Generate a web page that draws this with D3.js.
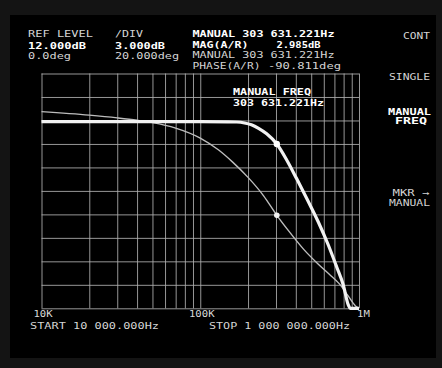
<!DOCTYPE html>
<html>
<head>
<meta charset="utf-8">
<script src="https://cdn.jsdelivr.net/npm/d3@7"></script>
<style>
  html, body { margin: 0; padding: 0; background: #141414; }
  svg { display: block; }
</style>
</head>
<body>
<svg id="chart" width="442" height="368"></svg>
<script>
// ---- data ----
const magFreqHz = [10000, 50000, 100000, 150000, 170000, 190000, 210000, 233000, 262100, 303631.221, 350400, 405200, 473900, 554200, 640600, 723600, 796100, 856100, 880000, 1000000];
const magDb     = [5.84, 5.84, 5.84, 5.83, 5.8, 5.68, 5.45, 5.0, 4.3, 2.985, 0.95, -1.46, -4.16, -6.97, -9.91, -12.72, -15.02, -17.57, -19, -24];

const phaseFreqHz = [10000, 20000, 30000, 40000, 50000, 70000, 100000, 130000, 160000, 200000, 250000, 303631.221, 370000, 450000, 550000, 650000, 750000, 850000, 950000, 1000000];
const phaseDeg    = [-2.5, -5.5, -7.8, -9.8, -11.8, -16.5, -25, -35, -45.5, -58.5, -74, -90.811, -106, -120, -132, -141, -149, -159, -168, -172];

const markerFreqHz = 303631.221;
const markerMagDb = 2.985;
const markerPhaseDeg = -90.811;

const freqTickValues = [10000, 100000, 1000000];
const freqTickLabels = ["10K", "100K", "1M"];
const magGridDb = [12, 9, 6, 3, 0, -3, -6, -9, -12, -15, -18];

// ---- layout ----
const svg = d3.select("#chart");
const L = 41.5, R = 359, T = 73.5, B = 308.3;
const FONT = "'DejaVu Sans Mono', 'Liberation Mono', monospace";

svg.append("rect").attr("x", 10).attr("y", 15).attr("width", 426).attr("height", 343).attr("fill", "#000");

const x = d3.scaleLog().domain([1e4, 1e6]).range([L, R]);
const yMag = d3.scaleLinear().domain([12, -18]).range([T, B]).clamp(true);
const yPh = d3.scaleLinear().domain([30, -170]).range([T, B]).clamp(true);

// grid
const gridX = svg.append("g").attr("transform", `translate(0,${B})`)
  .call(d3.axisBottom(x).tickValues(x.ticks()).tickSize(-(B - T)).tickFormat(""));
const gridY = svg.append("g").attr("transform", `translate(${L},0)`)
  .call(d3.axisLeft(yMag).tickValues(magGridDb).tickSize(-(R - L)).tickFormat(""));
[gridX, gridY].forEach(g => {
  g.select(".domain").remove();
  g.selectAll("line").attr("stroke", "#b0b0b0").attr("stroke-width", 1).attr("opacity", 0.85);
});

// frequency labels
const ax = svg.append("g").attr("transform", `translate(0,${B})`)
  .call(d3.axisBottom(x).tickValues(freqTickValues).tickSize(0).tickPadding(0)
    .tickFormat((d, i) => freqTickLabels[i]));
ax.select(".domain").remove();
ax.selectAll("text")
  .attr("font-family", FONT).attr("font-size", 8.5).attr("fill", "#d8d8d8")
  .attr("dy", 0).attr("y", 9)
  .attr("textLength", (d, i) => freqTickLabels[i].length * 6.4)
  .attr("lengthAdjust", "spacingAndGlyphs")
  .attr("dx", (d, i) => i === 2 ? 4 : 1);

// curves
const line = (ys) => d3.line().x(d => x(d[0])).y(d => ys(d[1])).curve(d3.curveMonotoneX);
svg.append("path")
  .datum(phaseFreqHz.map((f, i) => [f, phaseDeg[i]]))
  .attr("d", line(yPh))
  .attr("fill", "none").attr("stroke", "#bdbdbd").attr("stroke-width", 1.4);
svg.append("path")
  .datum(magFreqHz.map((f, i) => [f, magDb[i]]))
  .attr("d", line(yMag))
  .attr("fill", "none").attr("stroke", "#f2f2f2").attr("stroke-width", 3.2)
  .attr("stroke-linejoin", "round");

// markers
svg.append("circle").attr("cx", x(markerFreqHz)).attr("cy", yMag(markerMagDb)).attr("r", 3.2).attr("fill", "#fff");
svg.append("circle").attr("cx", x(markerFreqHz)).attr("cy", yPh(markerPhaseDeg)).attr("r", 2.8).attr("fill", "#f0f0f0");

// annotation texts
const texts = [
  { t: "REF LEVEL", x: 28, y: 37, w: 65 },
  { t: "12.000dB", x: 28, y: 48.5, w: 58, b: true },
  { t: "0.0deg", x: 28, y: 59, w: 43 },
  { t: "/DIV", x: 115, y: 37, w: 28 },
  { t: "3.000dB", x: 115, y: 48.5, w: 50, b: true },
  { t: "20.000deg", x: 115, y: 59, w: 64 },
  { t: "MANUAL 303 631.221Hz", x: 192.5, y: 37, w: 142, b: true },
  { t: "MAG(A/R)", x: 192.5, y: 47.5, w: 56, b: true },
  { t: "2.985dB", x: 276.5, y: 47.5, w: 44, b: true },
  { t: "MANUAL 303 631.221Hz", x: 192.5, y: 58, w: 142 },
  { t: "PHASE(A/R)", x: 192.5, y: 68.5, w: 68 },
  { t: "-90.811deg", x: 268, y: 68.5, w: 73 },
  { t: "MANUAL FREQ", x: 233, y: 95, w: 78, b: true },
  { t: "303 631.221Hz", x: 233, y: 106, w: 91, b: true },
  { t: "CONT", x: 403, y: 39, w: 27 },
  { t: "SINGLE", x: 389, y: 80, w: 41 },
  { t: "MANUAL", x: 388, y: 114.5, w: 43, b: true },
  { t: "FREQ", x: 395, y: 123.5, w: 32, b: true },
  { t: "MKR →", x: 392.5, y: 196, w: 37 },
  { t: "MANUAL", x: 389, y: 205.5, w: 41 },
  { t: "START 10 000.000Hz", x: 30, y: 329, w: 129 },
  { t: "STOP 1 000 000.000Hz", x: 209, y: 329, w: 141 }
];
svg.append("g").selectAll("text").data(texts).join("text")
  .attr("x", d => d.x).attr("y", d => d.y)
  .attr("font-family", FONT).attr("font-size", 8.5)
  .attr("font-weight", d => d.b ? "bold" : "normal")
  .attr("fill", d => d.b ? "#ffffff" : "#d4d4d4")
  .attr("textLength", d => d.w).attr("lengthAdjust", "spacingAndGlyphs")
  .text(d => d.t);
</script>
</body>
</html>
